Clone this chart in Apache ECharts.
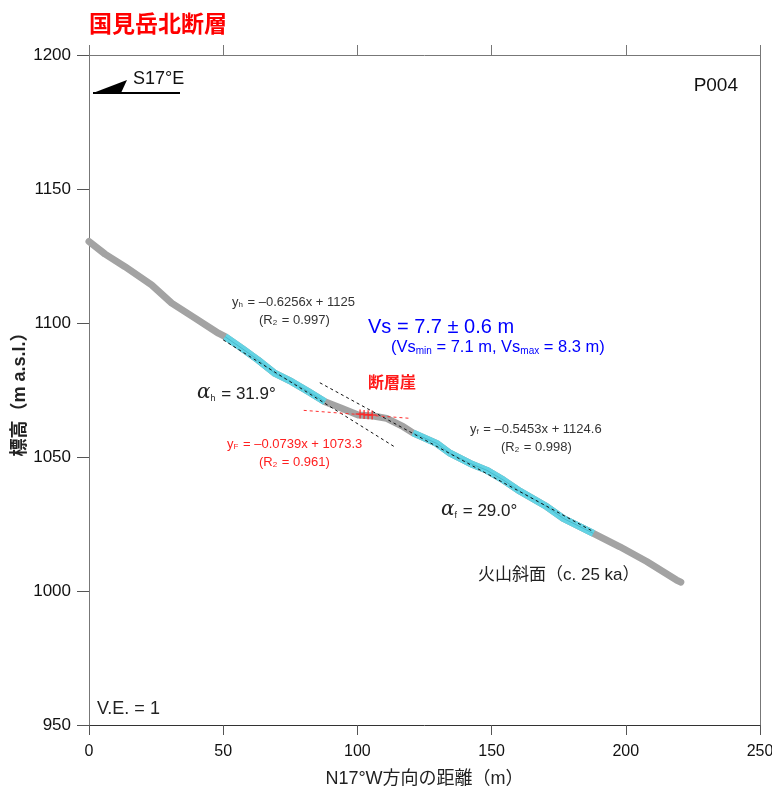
<!DOCTYPE html>
<html>
<head>
<meta charset="utf-8">
<script src="https://cdn.jsdelivr.net/npm/echarts@6/dist/echarts.min.js"></script>
<style>html,body{margin:0;padding:0;background:#fff}#c{width:772px;height:791px}</style>
</head>
<body>
<div id="c"></div>
<script>
// ---- data ----
const profileX = [0, 6, 13.4, 23.3, 30.8, 39.5, 48.2, 50.7, 57, 63, 69.3, 75.5, 81.7, 87.9, 94.1, 100.3, 105.9, 110.9, 117.1, 120.7, 129.5, 134.5, 142, 148.1, 154.4, 160.6, 170.5, 176.7, 187.9, 197.8, 207.8, 218.9, 220.5];
const profileY = [1130.4, 1125.7, 1121, 1114.2, 1107.4, 1101.8, 1096.2, 1094.9, 1090.5, 1086.2, 1081.2, 1078.1, 1074.4, 1070.6, 1068.2, 1065.7, 1065.3, 1064.4, 1061.3, 1059, 1055.1, 1051.4, 1047.6, 1045.1, 1041.4, 1037.2, 1031.5, 1027.1, 1021.5, 1016.5, 1011, 1004.1, 1003.3];
const hangingRange = [50.7, 87.9];
const footRange = [120.7, 187.9];
const fitH = [[50, 1093.7], [114, 1053.7]];
const fitF = [[86, 1077.7], [188, 1022.1]];
const fitScarp = [[80, 1067.4], [120, 1064.4]];
const scarpX = [101, 102.5, 104, 105.5];
const scarpY = [1066.0, 1065.9, 1065.8, 1065.7];
const xTicks = [0, 50, 100, 150, 200, 250];
const yTicks = [950, 1000, 1050, 1100, 1150, 1200];

const profile = profileX.map((x, i) => [x, profileY[i]]);
const inRange = r => profile.filter(p => p[0] >= r[0] && p[0] <= r[1]);
const scarpPts = scarpX.map((x, i) => [x, scarpY[i]]);

const SANS = "'Liberation Sans',Arial,sans-serif";
const CJK = "'Noto Sans CJK JP',sans-serif";
const MIX = "'Liberation Sans','Noto Sans CJK JP',sans-serif";

function eq(x, y, color, base, sub, rest) {
  return {
    type: 'text', left: x, top: y - 9, z: 100,
    style: {
      text: '{a|' + base + '}{s|' + sub + '}{a|' + rest + '}',
      fill: color,
      rich: {
        a: {fontSize: 13, fontFamily: SANS, fill: color, color: color, lineHeight: 18, verticalAlign: 'bottom'},
        s: {fontSize: 8, fontFamily: SANS, fill: color, color: color, lineHeight: 18, verticalAlign: 'bottom', padding: [0, 1, 0, 0]}
      }
    }
  };
}
function alpha(x, y, sub, rest) {
  const c = '#222';
  return {
    type: 'text', left: x, top: y - 12, z: 100,
    style: {
      text: '{g|α}{s|' + sub + '}{a|' + rest + '}',
      fill: c,
      rich: {g: {fontSize: 20, fontFamily: "'DejaVu Serif',serif", fontStyle: 'italic', fill: c, color: c, lineHeight: 24, verticalAlign: 'bottom'},
             a: {fontSize: 17, fontFamily: SANS, fill: c, color: c, lineHeight: 24, verticalAlign: 'bottom'},
             s: {fontSize: 9, fontFamily: SANS, fill: c, color: c, lineHeight: 24, verticalAlign: 'bottom', padding: [0, 1, 0, 0]}}
    }
  };
}

const chart = echarts.init(document.getElementById('c'));
chart.setOption({
  animation: false,
  backgroundColor: '#fff',
  grid: {left: 89, right: 12, top: 55, bottom: 66, outerBoundsMode: 'none', containLabel: false},
  xAxis: [{
    type: 'value', min: 0, max: 250, interval: 50,
    name: 'N17°W方向の距離（m）', nameLocation: 'middle', nameGap: 45, nameMoveOverlap: false,
    nameTextStyle: {fontSize: 18, fontFamily: MIX, color: '#222'},
    axisLine: {onZero: false, lineStyle: {color: '#333', width: 1}},
    axisTick: {inside: false, length: 10, lineStyle: {color: '#555'}},
    axisLabel: {margin: 19, fontSize: 16, fontFamily: SANS, color: '#111', hideOverlap: false, formatter: v => xTicks.includes(v) ? String(v) : ''},
    splitLine: {show: false}
  }, {
    type: 'value', min: 0, max: 250, interval: 50, position: 'top',
    axisLine: {onZero: false, lineStyle: {color: '#777'}},
    axisTick: {inside: false, length: 10, lineStyle: {color: '#777'}},
    axisLabel: {show: false}, splitLine: {show: false}
  }],
  yAxis: [{
    type: 'value', min: 950, max: 1200, interval: 50,
    name: '標高（m a.s.l.）', nameLocation: 'middle', nameGap: 60, nameRotate: 90, nameMoveOverlap: false,
    nameTextStyle: {fontSize: 18, fontWeight: 'bold', fontFamily: MIX, color: '#222'},
    axisLine: {onZero: false, lineStyle: {color: '#777'}},
    axisTick: {inside: false, length: 12, lineStyle: {color: '#555'}},
    axisLabel: {margin: 18, fontSize: 17, fontFamily: SANS, color: '#111', formatter: v => yTicks.includes(v) ? String(v) : ''},
    splitLine: {show: false}
  }, {
    type: 'value', min: 950, max: 1200, interval: 50, position: 'right',
    axisLine: {show: true, onZero: false, lineStyle: {color: '#777'}},
    axisTick: {show: false}, axisLabel: {show: false}, splitLine: {show: false}
  }],
  series: [
    {type: 'line', data: profile, showSymbol: false, z: 2,
     lineStyle: {color: '#a3a3a3', width: 7, cap: 'round', join: 'round'}},
    {type: 'line', data: inRange(hangingRange), showSymbol: false, z: 3,
     lineStyle: {color: '#62d3e4', width: 7, cap: 'butt', join: 'round'}},
    {type: 'line', data: inRange(footRange), showSymbol: false, z: 3,
     lineStyle: {color: '#62d3e4', width: 7, cap: 'butt', join: 'round'}},
    {type: 'line', data: inRange(hangingRange), showSymbol: false, z: 4,
     lineStyle: {color: '#3aa9bd', width: 1, opacity: 0.6}},
    {type: 'line', data: inRange(footRange), showSymbol: false, z: 4,
     lineStyle: {color: '#3aa9bd', width: 1, opacity: 0.6}},
    {type: 'scatter', data: scarpPts, z: 5, symbol: 'path://M0,5 L10,5 M5,0 L5,10', symbolSize: 9,
     itemStyle: {color: 'none', borderColor: '#ff2020', borderWidth: 1.5}},
    {type: 'line', data: fitH, showSymbol: false, z: 6,
     lineStyle: {color: '#111', width: 1, type: [3, 3]}},
    {type: 'line', data: fitF, showSymbol: false, z: 6,
     lineStyle: {color: '#111', width: 1, type: [3, 3]}},
    {type: 'line', data: fitScarp, showSymbol: false, z: 6,
     lineStyle: {color: '#ff3030', width: 1, type: [3, 3]}}
  ],
  graphic: [
    {type: 'text', left: 89, top: 12, style: {text: '国見岳北断層', fontSize: 23, fontWeight: 'bold', fontFamily: CJK, fill: '#ff0000'}},
    {type: 'polygon', shape: {points: [[93, 93], [127, 80], [121, 93]]}, style: {fill: '#000'}},
    {type: 'line', shape: {x1: 93, y1: 93, x2: 180, y2: 93}, style: {stroke: '#000', lineWidth: 2}},
    {type: 'text', left: 133, top: 70, style: {text: 'S17°E', fontSize: 18, fontFamily: SANS, fill: '#111'}},
    {type: 'text', right: 34, top: 76, style: {text: 'P004', fontSize: 19, fontFamily: SANS, fill: '#111'}},
    eq(232, 305, '#333', 'y', 'h', ' = –0.6256x + 1125'),
    eq(259, 323, '#333', '(R', '2', ' = 0.997)'),
    {type: 'text', left: 368, top: 317, style: {text: 'Vs = 7.7 ± 0.6 m', fontSize: 20, fontFamily: SANS, fill: '#0000ff'}},
    {type: 'text', left: 391, top: 339, style: {
      text: '{a|(Vs}{s|min}{a| = 7.1 m, Vs}{s|max}{a| = 8.3 m)}',
      fill: '#0000ff',
      rich: {a: {fontSize: 16.5, fontFamily: SANS, fill: '#0000ff', color: '#0000ff', lineHeight: 20, verticalAlign: 'bottom'},
             s: {fontSize: 10, fontFamily: SANS, fill: '#0000ff', color: '#0000ff', lineHeight: 20, verticalAlign: 'bottom'}}}},
    {type: 'text', left: 368, top: 374, style: {text: '断層崖', fontSize: 16, fontWeight: 'bold', fontFamily: CJK, fill: '#ff1a1a'}},
    alpha(197, 395, 'h', ' = 31.9°'),
    eq(227, 447, '#ff2020', 'y', 'F', ' = –0.0739x + 1073.3'),
    eq(259, 465, '#ff2020', '(R', '2', ' = 0.961)'),
    eq(470, 432, '#333', 'y', 'f', ' = –0.5453x + 1124.6'),
    eq(501, 450, '#333', '(R', '2', ' = 0.998)'),
    alpha(441, 512, 'f', ' = 29.0°'),
    {type: 'text', left: 478, top: 567, style: {text: '火山斜面（c. 25 ka）', fontSize: 17, fontFamily: MIX, fill: '#222'}},
    {type: 'text', left: 97, top: 700, style: {text: 'V.E. = 1', fontSize: 18, fontFamily: SANS, fill: '#222'}}
  ]
});
</script>
</body>
</html>
